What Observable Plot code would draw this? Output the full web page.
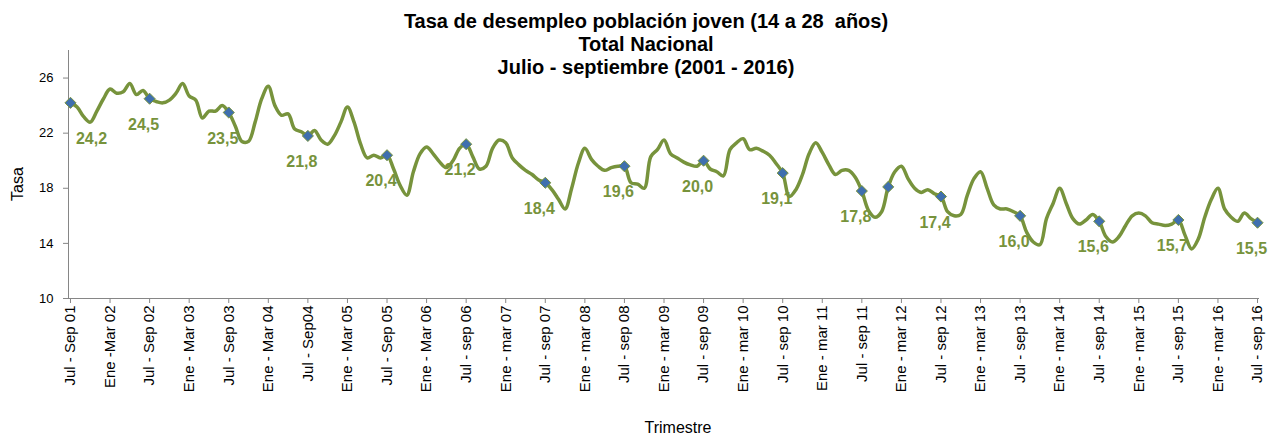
<!DOCTYPE html>
<html><head><meta charset="utf-8">
<script src="https://cdn.jsdelivr.net/npm/d3@7"></script>
<script src="https://cdn.jsdelivr.net/npm/@observablehq/plot@0.6"></script>
<style>
body{margin:0;background:#fff;font-family:"Liberation Sans",Arial,sans-serif}
#wrap{position:relative;width:1276px;height:437px;overflow:hidden}
#title{position:absolute;left:0;width:1292px;top:10px;text-align:center;font-weight:bold;font-size:20px;line-height:23px;color:#000}
#ylab{position:absolute;left:18px;top:184px;transform:translate(-50%,-50%) rotate(-90deg);font-size:16px;color:#000}
#xlab{position:absolute;left:678px;top:428px;transform:translate(-50%,-50%);font-size:16px;color:#000}
</style></head>
<body><div id="wrap"><div id="chart"></div>
<div id="title">Tasa de desempleo población joven (14 a 28&nbsp; años)<br>Total Nacional<br>Julio - septiembre (2001 - 2016)</div>
<div id="ylab">Tasa</div><div id="xlab">Trimestre</div></div>
<script>
// Category tick labels (every 6 months)
const tickLabels = ["Jul - Sep 01","Ene -Mar 02","Jul - Sep 02","Ene - Mar 03","Jul - Sep 03","Ene - Mar 04","Jul - Sep04","Ene - Mar 05","Jul - Sep 05","Ene - Mar 06","Jul - sep 06","Ene - mar 07","Jul - sep 07","Ene - mar 08","Jul - sep 08","Ene - mar 09","Jul - sep 09","Ene - mar 10","Jul - sep 10","Ene - mar 11","Jul - sep 11","Ene - mar 12","Jul - sep 12","Ene - mar 13","Jul - sep 13","Ene - mar 14","Jul - sep 14","Ene - mar 15","Jul - sep 15","Ene - mar 16","Jul - sep 16"];
// Monthly (rolling quarter) unemployment rate, Jul-Sep 2001 .. Jul-Sep 2016
const rates = [
24.2,23.9,23.2,22.8,23.6,24.5,25.2,24.9,25.0,25.6,24.8,25.1,
24.5,24.3,24.2,24.4,24.9,25.6,24.7,24.4,23.1,23.6,23.6,24.0,
23.5,22.5,21.4,21.4,22.8,24.5,25.4,24.0,23.3,23.4,22.3,22.1,
21.8,22.2,21.5,21.2,21.8,22.8,23.9,22.8,21.2,20.2,20.4,20.2,
20.4,19.4,18.2,17.5,19.2,20.5,21.0,20.5,19.9,19.5,20.0,20.9,
21.2,20.3,19.4,19.6,20.9,21.5,21.3,20.2,19.7,19.3,19.0,18.6,
18.4,17.9,17.2,16.5,18.0,19.8,20.9,20.1,19.6,19.3,19.5,19.6,
19.6,18.4,18.3,18.0,20.3,20.8,21.5,20.5,20.2,19.9,19.7,19.6,
20.0,19.4,19.2,18.9,20.8,21.3,21.6,20.8,20.9,20.7,20.4,19.8,
19.1,17.4,17.9,19.0,20.5,21.3,20.6,19.7,19.0,19.3,19.3,18.8,
17.8,16.4,15.9,16.3,18.1,19.2,19.6,18.7,18.0,17.7,17.9,17.6,
17.4,16.3,16.0,16.1,17.5,18.7,19.2,18.0,16.8,16.5,16.5,16.3,
16.0,14.8,14.1,13.9,15.8,16.9,18.0,16.9,15.8,15.4,15.7,16.1,
15.6,14.5,14.1,14.5,15.3,16.0,16.2,16.0,15.5,15.4,15.3,15.4,
15.7,14.6,13.6,14.3,15.9,17.2,18.0,16.5,15.9,15.6,16.2,15.8,
15.5];
// Highlighted periods (month index) and their labels
const markerIdx = [0,12,24,36,48,60,72,84,96,108,120,124,132,144,156,168,180];
const markerText = ["24,2","24,5","23,5","21,8","20,4","21,2","18,4","19,6","20,0","19,1","17,8","","17,4","16,0","15,6","15,7","15,5"];
const yTicks = [10,14,18,22,26];
const xDomain = [-0.3,180.3];
const yDomain = [10,28];

const series = rates.map((v,i)=>({m:i,v}));
const markers = markerIdx.map((m,i)=>({m, v:rates[m], t:markerText[i]}));
const green = "#77933C";
const chart = Plot.plot({
  width:1276, height:437,
  marginLeft:68, marginRight:17, marginTop:50, marginBottom:139,
  style:{fontFamily:"'Liberation Sans', Arial, sans-serif", fontSize:"13px", color:"#000", background:"transparent", overflow:"visible"},
  x:{type:"linear", domain:xDomain},
  y:{domain:yDomain},
  marks:[
    Plot.ruleX([xDomain[0]],{stroke:"#868686", strokeWidth:1}),
    Plot.ruleY([yDomain[0]],{stroke:"#868686", strokeWidth:1}),
    Plot.axisY({ticks:yTicks, tickSize:5, tickPadding:10, stroke:"#868686", fill:"#000", label:null, fontSize:13}),
    Plot.axisX({ticks:d3.range(0,181,6), tickFormat:(d)=>tickLabels[d/6], tickRotate:-90, tickSize:5, tickPadding:2, stroke:"#868686", label:null, fontSize:15}),
    Plot.line(series,{x:"m", y:"v", stroke:green, strokeWidth:3.5, curve:"catmull-rom"}),
    Plot.dot(markers,{x:"m", y:"v", symbol:"diamond2", r:5, fill:"#3F6FAE", stroke:green, strokeWidth:1}),
    Plot.text(markers,{filter:(d,i)=>i===0, x:"m", y:"v", text:"t", dy:36, dx:21, fill:green, fontWeight:"bold", fontSize:16}),
    Plot.text(markers,{filter:(d,i)=>i>0, x:"m", y:"v", text:"t", dy:26, dx:-6, fill:green, fontWeight:"bold", fontSize:16})
  ]
});
document.getElementById("chart").append(chart);
</script></body></html>
